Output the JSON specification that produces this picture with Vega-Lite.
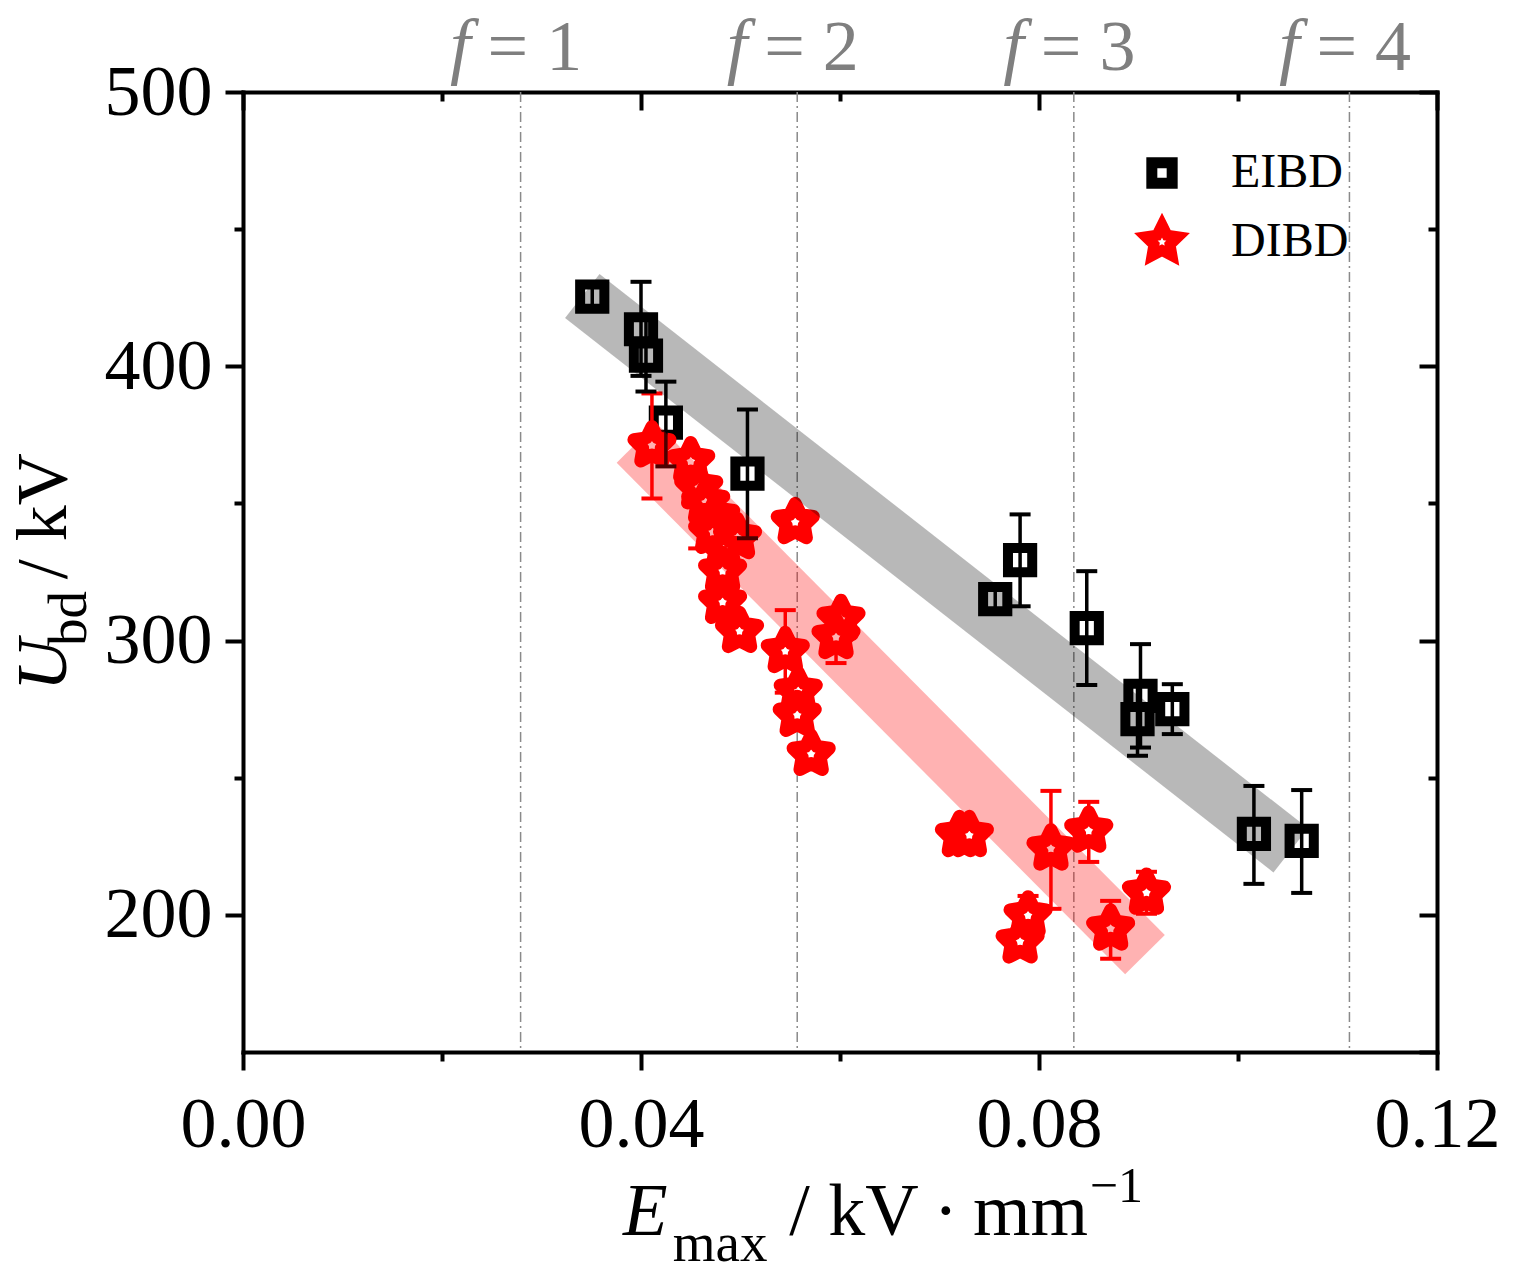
{
  "$schema": "https://vega.github.io/schema/vega-lite/v6.json",
  "description": "Breakdown voltage vs maximum field, EIBD and DIBD, with f = 1..4 guide lines",
  "width": 1194,
  "height": 960,
  "autosize": "none",
  "padding": {"left": 243, "top": 92, "right": 76, "bottom": 224},
  "background": "white",
  "config": {
    "view": {"stroke": null},
    "font": "Liberation Serif",
    "axis": {
      "grid": false,
      "title": null,
      "domainColor": "black",
      "domainWidth": 4,
      "domainCap": "square",
      "tickColor": "black",
      "tickWidth": 4,
      "labelFont": "Liberation Serif",
      "labelFontSize": 72,
      "labelColor": "black",
      "labelFlush": false,
      "labelOverlap": false,
      "labelBound": false
    }
  },
  "data": {"values": [{}]},
  "datasets": {
    "pts": [
      {"series": "EIBD", "E": 0.0351, "U": 425.4, "lo": 421, "hi": 430},
      {"series": "EIBD", "E": 0.0400, "U": 413.5, "lo": 396.5, "hi": 430.8},
      {"series": "EIBD", "E": 0.0405, "U": 403.9, "lo": 390.8, "hi": 417},
      {"series": "EIBD", "E": 0.0425, "U": 379.5, "lo": 363.5, "hi": 394.4},
      {"series": "EIBD", "E": 0.0507, "U": 360.9, "lo": 337.3, "hi": 384.2},
      {"series": "EIBD", "E": 0.0756, "U": 315.1, "lo": 310, "hi": 320},
      {"series": "EIBD", "E": 0.0781, "U": 329.3, "lo": 312.5, "hi": 346.0},
      {"series": "EIBD", "E": 0.0848, "U": 304.5, "lo": 283.8, "hi": 325.3},
      {"series": "EIBD", "E": 0.0902, "U": 279.8, "lo": 261, "hi": 298.7},
      {"series": "EIBD", "E": 0.0899, "U": 271.4, "lo": 258, "hi": 284},
      {"series": "EIBD", "E": 0.0934, "U": 275.0, "lo": 265.9, "hi": 284.1},
      {"series": "EIBD", "E": 0.1016, "U": 229.5, "lo": 211.3, "hi": 247.0},
      {"series": "EIBD", "E": 0.1064, "U": 227.0, "lo": 208.0, "hi": 245.5},
      {"series": "DIBD", "E": 0.0411, "U": 371.1, "lo": 351.8, "hi": 390.1},
      {"series": "DIBD", "E": 0.0450, "U": 365.3},
      {"series": "DIBD", "E": 0.0458, "U": 355.8, "lo": 333.6, "hi": 360},
      {"series": "DIBD", "E": 0.0465, "U": 350.4},
      {"series": "DIBD", "E": 0.0475, "U": 345.3},
      {"series": "DIBD", "E": 0.0472, "U": 339.5},
      {"series": "DIBD", "E": 0.0497, "U": 337.6},
      {"series": "DIBD", "E": 0.0483, "U": 333.3},
      {"series": "DIBD", "E": 0.0482, "U": 325.3},
      {"series": "DIBD", "E": 0.0482, "U": 314.0},
      {"series": "DIBD", "E": 0.0499, "U": 303.4},
      {"series": "DIBD", "E": 0.0555, "U": 343.1},
      {"series": "DIBD", "E": 0.0545, "U": 296.1, "lo": 281, "hi": 311.1},
      {"series": "DIBD", "E": 0.0601, "U": 307.8},
      {"series": "DIBD", "E": 0.0596, "U": 301.2, "lo": 291.8, "hi": 310.6},
      {"series": "DIBD", "E": 0.0558, "U": 281.6},
      {"series": "DIBD", "E": 0.0557, "U": 272.8},
      {"series": "DIBD", "E": 0.0571, "U": 258.6},
      {"series": "DIBD", "E": 0.0720, "U": 229.0},
      {"series": "DIBD", "E": 0.0730, "U": 229.0},
      {"series": "DIBD", "E": 0.0812, "U": 224.1, "lo": 202.2, "hi": 245.2},
      {"series": "DIBD", "E": 0.0850, "U": 230.6, "lo": 219.3, "hi": 241.2},
      {"series": "DIBD", "E": 0.0789, "U": 199.7, "lo": 192.5, "hi": 206.9},
      {"series": "DIBD", "E": 0.0781, "U": 190.2},
      {"series": "DIBD", "E": 0.0872, "U": 194.9, "lo": 184.0, "hi": 205.1},
      {"series": "DIBD", "E": 0.0908, "U": 208.0, "lo": 200.4, "hi": 215.7}
    ],
    "bands": [
      {"series": "EIBD", "E": 0.0341, "U": 425.6},
      {"series": "EIBD", "E": 0.1053, "U": 223.5},
      {"series": "DIBD", "E": 0.03955, "U": 372.0},
      {"series": "DIBD", "E": 0.09065, "U": 185.5}
    ],
    "flines": [
      {"f": 1, "E": 0.0279, "label": "= 1"},
      {"f": 2, "E": 0.0557, "label": "= 2"},
      {"f": 3, "E": 0.0835, "label": "= 3"},
      {"f": 4, "E": 0.1112, "label": "= 4"}
    ]
  },
  "resolve": {"axis": {"x": "independent", "y": "independent"}},
  "layer": [
    {
      "data": {"name": "flines"},
      "mark": {"type": "rule", "stroke": "#8a8a8a", "strokeWidth": 1.5, "strokeDash": [10, 4, 2, 4]},
      "encoding": {
        "x": {
          "field": "E", "type": "quantitative",
          "scale": {"domain": [0, 0.12], "nice": false, "zero": false},
          "axis": {"orient": "bottom", "values": [0, 0.04, 0.08, 0.12], "format": ".2f", "tickSize": 18, "labelPadding": 19}
        }
      }
    },
    {
      "data": {"name": "flines"},
      "mark": {"type": "text", "text": "f", "font": "Liberation Serif", "fontStyle": "italic", "fontSize": 74, "color": "#7f7f7f", "align": "right", "baseline": "alphabetic", "dx": -50},
      "encoding": {
        "x": {"field": "E", "type": "quantitative",
          "axis": {"orient": "bottom", "values": [0.02, 0.06, 0.1], "tickSize": 9, "labels": false, "domain": false}},
        "y": {"datum": 508, "type": "quantitative",
          "scale": {"domain": [150, 500], "nice": false, "zero": false},
          "axis": {"orient": "left", "values": [200, 300, 400, 500], "tickSize": 18, "labelPadding": 13}}
      }
    },
    {
      "data": {"name": "flines"},
      "mark": {"type": "text", "font": "Liberation Serif", "fontSize": 72, "color": "#7f7f7f", "align": "left", "baseline": "alphabetic", "dx": -33},
      "encoding": {
        "text": {"field": "label"},
        "x": {"field": "E", "type": "quantitative",
          "axis": {"orient": "top", "values": [0, 0.04, 0.08, 0.12], "tickSize": -18, "labels": false}},
        "y": {"datum": 508, "type": "quantitative",
          "axis": {"orient": "left", "values": [250, 350, 450], "tickSize": 9, "labels": false, "domain": false}}
      }
    },
    {
      "data": {"name": "pts"},
      "transform": [{"filter": "datum.series === 'EIBD'"}],
      "mark": {"type": "point", "filled": false, "fill": "white", "strokeWidth": 10, "size": 1630, "opacity": 1, "strokeJoin": "miter"},
      "encoding": {
        "x": {"field": "E", "type": "quantitative",
          "axis": {"orient": "top", "values": [0.02, 0.06, 0.1], "tickSize": -9, "labels": false, "domain": false}},
        "y": {"field": "U", "type": "quantitative",
          "axis": {"orient": "right", "values": [150, 200, 300, 400, 500], "tickSize": -18, "labels": false}},
        "shape": {
          "field": "series", "type": "nominal",
          "scale": {"domain": ["EIBD", "DIBD"], "range": ["M-0.6,-0.6L0.6,-0.6L0.6,0.6L-0.6,0.6Z", "M0,-1L0.294,-0.405L0.951,-0.309L0.476,0.155L0.588,0.809L0,0.5L-0.588,0.809L-0.476,0.155L-0.951,-0.309L-0.294,-0.405Z"]},
          "legend": {"title": null, "orient": "none", "legendX": 895, "legendY": 57, "labelFont": "Liberation Serif", "labelFontSize": 48, "labelColor": "black", "symbolSize": 1150, "symbolStrokeWidth": 11, "symbolFillColor": "white", "symbolOpacity": 1, "rowPadding": -3, "labelOffset": 45}
        },
        "stroke": {
          "field": "series", "type": "nominal",
          "scale": {"domain": ["EIBD", "DIBD"], "range": ["black", "#ff0000"]},
          "legend": {"title": null, "orient": "none", "legendX": 895, "legendY": 57, "labelFont": "Liberation Serif", "labelFontSize": 48, "labelColor": "black", "symbolSize": 1150, "symbolStrokeWidth": 11, "symbolFillColor": "white", "symbolOpacity": 1, "rowPadding": -3, "labelOffset": 45}
        }
      }
    },
    {
      "data": {"name": "pts"},
      "transform": [{"filter": "datum.series === 'DIBD' && isValid(datum.lo)"}],
      "layer": [
        {
          "mark": {"type": "rule", "stroke": "#ff0000", "strokeWidth": 3.5},
          "encoding": {
            "x": {"field": "E", "type": "quantitative", "axis": null},
            "y": {"field": "lo", "type": "quantitative", "axis": null},
            "y2": {"field": "hi"}
          }
        },
        {
          "transform": [{"fold": ["lo", "hi"], "as": ["end", "v"]}],
          "mark": {"type": "tick", "orient": "horizontal", "color": "#ff0000", "size": 21, "thickness": 4, "opacity": 1},
          "encoding": {
            "x": {"field": "E", "type": "quantitative", "axis": null},
            "y": {"field": "v", "type": "quantitative", "axis": null}
          }
        }
      ]
    },
    {
      "data": {"name": "pts"},
      "transform": [{"filter": "datum.series === 'DIBD'"}],
      "mark": {"type": "point", "filled": false, "fill": "white", "strokeWidth": 13, "size": 1444, "opacity": 1, "strokeJoin": "round"},
      "encoding": {
        "x": {"field": "E", "type": "quantitative", "axis": null},
        "y": {"field": "U", "type": "quantitative",
          "axis": {"orient": "right", "values": [250, 350, 450], "tickSize": -9, "labels": false, "domain": false}},
        "shape": {"field": "series", "type": "nominal"},
        "stroke": {"field": "series", "type": "nominal"}
      }
    },
    {
      "data": {"name": "pts"},
      "transform": [{"filter": "datum.series === 'EIBD'"}],
      "layer": [
        {
          "mark": {"type": "rule", "stroke": "black", "strokeWidth": 3.5},
          "encoding": {
            "x": {"field": "E", "type": "quantitative", "axis": null},
            "y": {"field": "lo", "type": "quantitative", "axis": null},
            "y2": {"field": "hi"}
          }
        },
        {
          "transform": [{"fold": ["lo", "hi"], "as": ["end", "v"]}],
          "mark": {"type": "tick", "orient": "horizontal", "color": "black", "size": 21, "thickness": 4, "opacity": 1},
          "encoding": {
            "x": {"field": "E", "type": "quantitative", "axis": null},
            "y": {"field": "v", "type": "quantitative", "axis": null}
          }
        }
      ]
    },
    {
      "data": {"name": "bands"},
      "transform": [{"filter": "datum.series === 'EIBD'"}],
      "mark": {"type": "line", "stroke": "black", "strokeOpacity": 0.28, "strokeWidth": 56, "strokeCap": "butt"},
      "encoding": {
        "x": {"field": "E", "type": "quantitative", "axis": null},
        "y": {"field": "U", "type": "quantitative", "axis": null}
      }
    },
    {
      "data": {"name": "bands"},
      "transform": [{"filter": "datum.series === 'DIBD'"}],
      "mark": {"type": "line", "stroke": "#ff0000", "strokeOpacity": 0.3, "strokeWidth": 56, "strokeCap": "butt"},
      "encoding": {
        "x": {"field": "E", "type": "quantitative", "axis": null},
        "y": {"field": "U", "type": "quantitative", "axis": null}
      }
    },
    {
      "mark": {"type": "text", "text": "E", "font": "Liberation Serif", "fontStyle": "italic", "fontSize": 73, "color": "black", "align": "left", "baseline": "alphabetic"},
      "encoding": {
        "x": {"datum": 0.0382, "type": "quantitative", "axis": null},
        "y": {"datum": 83.2, "type": "quantitative", "axis": null}
      }
    },
    {
      "mark": {"type": "text", "text": "max", "font": "Liberation Serif", "fontSize": 55, "color": "black", "align": "left", "baseline": "alphabetic"},
      "encoding": {
        "x": {"datum": 0.0432, "type": "quantitative", "axis": null},
        "y": {"datum": 73.7, "type": "quantitative", "axis": null}
      }
    },
    {
      "mark": {"type": "text", "text": "/ kV\u2009·\u2009mm", "font": "Liberation Serif", "fontSize": 74, "color": "black", "align": "left", "baseline": "alphabetic"},
      "encoding": {
        "x": {"datum": 0.0549, "type": "quantitative", "axis": null},
        "y": {"datum": 83.2, "type": "quantitative", "axis": null}
      }
    },
    {
      "mark": {"type": "text", "text": "−1", "font": "Liberation Serif", "fontSize": 50, "color": "black", "align": "left", "baseline": "alphabetic"},
      "encoding": {
        "x": {"datum": 0.0851, "type": "quantitative", "axis": null},
        "y": {"datum": 95.2, "type": "quantitative", "axis": null}
      }
    },
    {
      "mark": {"type": "text", "text": "U", "angle": 270, "font": "Liberation Serif", "fontStyle": "italic", "fontSize": 72, "color": "black", "align": "left", "baseline": "alphabetic"},
      "encoding": {
        "x": {"datum": -0.0178, "type": "quantitative", "axis": null},
        "y": {"datum": 281.6, "type": "quantitative", "axis": null}
      }
    },
    {
      "mark": {"type": "text", "text": "bd", "angle": 270, "font": "Liberation Serif", "fontSize": 55, "color": "black", "align": "left", "baseline": "alphabetic"},
      "encoding": {
        "x": {"datum": -0.0158, "type": "quantitative", "axis": null},
        "y": {"datum": 298.0, "type": "quantitative", "axis": null}
      }
    },
    {
      "mark": {"type": "text", "text": "/ kV", "angle": 270, "font": "Liberation Serif", "fontSize": 72, "color": "black", "align": "left", "baseline": "alphabetic"},
      "encoding": {
        "x": {"datum": -0.0178, "type": "quantitative", "axis": null},
        "y": {"datum": 322.4, "type": "quantitative", "axis": null}
      }
    }
  ]
}
